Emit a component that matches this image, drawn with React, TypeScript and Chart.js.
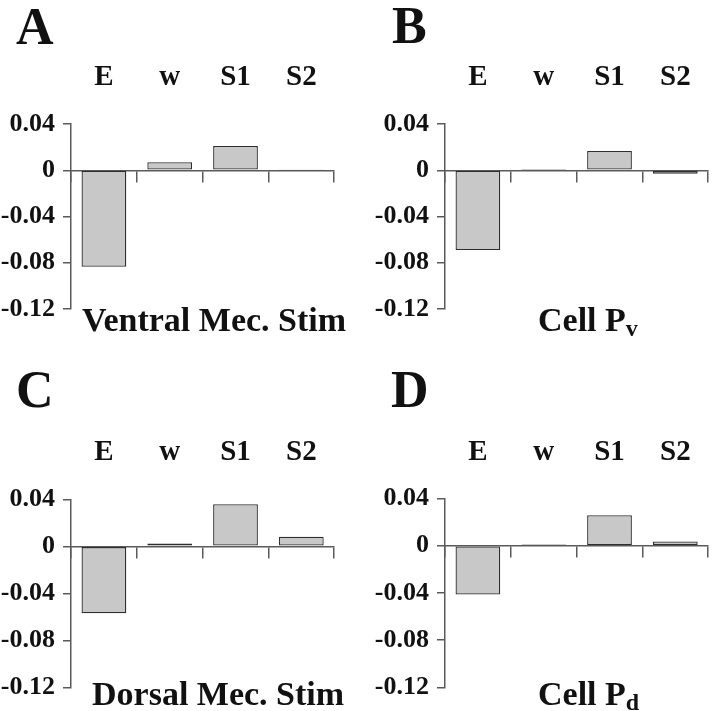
import React, { useEffect, useRef } from 'react';
import { Chart, registerables } from 'chart.js';

Chart.register(...registerables);

// ---- data ----
const categories = ['E', 'w', 'S1', 'S2'];
const ventralMecStim = [-0.0835, 0.0069, 0.021, 0.0005];
const cellPv = [-0.069, 0.001, 0.0167, -0.003];
const dorsalMecStim = [-0.057, 0.0025, 0.0358, 0.0082];
const cellPd = [-0.0414, 0.001, 0.0259, 0.0036];
const yTickValues = [-0.12, -0.08, -0.04, 0, 0.04];
const yTickLabels = ['-0.12', '-0.08', '-0.04', '0', '0.04'];
const yMin = -0.12;
const yMax = 0.04;

const SERIF = "'Liberation Serif', 'Times New Roman', serif";
const AXIS = '#5a5a5a';
const TEXT = '#111111';

type PanelProps = {
  values: number[];
  left: number;
  top: number;
  height: number;
  chartTop: number;
  chartBottom: number;
};

function Panel({ values, left, top, height, chartTop, chartBottom }: PanelProps) {
  const ref = useRef<HTMLCanvasElement | null>(null);
  useEffect(() => {
    if (!ref.current) return;
    const chart = new Chart(ref.current, {
      type: 'bar',
      data: {
        labels: categories,
        datasets: [
          {
            data: values,
            backgroundColor: '#c8c8c8',
            borderColor: '#2e2e2e',
            borderWidth: 1.3,
            borderSkipped: false,
            categoryPercentage: 1,
            barPercentage: 0.68,
          },
        ],
      },
      options: {
        animation: false,
        responsive: false,
        maintainAspectRatio: false,
        devicePixelRatio: 1,
        layout: {
          padding: { left: 0, right: 3, top: chartTop - 80, bottom: height - chartBottom },
        },
        plugins: {
          legend: { display: false },
          tooltip: { enabled: false },
          title: { display: false },
        },
        scales: {
          x: {
            type: 'category',
            position: { y: 0 },
            offset: true,
            grid: {
              display: true,
              offset: true,
              drawOnChartArea: false,
              drawTicks: true,
              tickLength: 11,
              color: AXIS,
              lineWidth: 1.5,
            },
            border: { display: true, color: AXIS, width: 1.5 },
            ticks: { display: false },
          },
          xTop: {
            type: 'category',
            position: 'top',
            offset: true,
            grid: { display: false, drawTicks: false },
            border: { display: false },
            ticks: {
              padding: 29,
              color: TEXT,
              font: { family: SERIF, size: 29, weight: 'bold' },
              maxRotation: 0,
              autoSkip: false,
            },
            afterFit: (s: any) => {
              s.height = 80;
            },
          },
          y: {
            type: 'linear',
            position: 'left',
            min: yMin,
            max: yMax,
            afterFit: (s: any) => {
              s.width = 71;
            },
            afterBuildTicks: (s: any) => {
              s.ticks = yTickValues.map((v) => ({ value: v }));
            },
            ticks: {
              callback: (_v: any, i: number) => yTickLabels[i],
              padding: 8,
              color: TEXT,
              font: { family: SERIF, size: 26, weight: 'bold' },
            },
            grid: {
              drawOnChartArea: false,
              drawTicks: true,
              tickLength: 8,
              color: AXIS,
              lineWidth: 1.5,
            },
            border: { display: true, color: AXIS, width: 1.5 },
          },
        },
      } as any,
    });
    return () => chart.destroy();
  }, []);
  return (
    <canvas
      ref={ref}
      width={346}
      height={height}
      style={{ position: 'absolute', left, top, width: 346, height }}
    />
  );
}

const textBase: React.CSSProperties = {
  position: 'absolute',
  whiteSpace: 'nowrap',
  lineHeight: 1,
  fontWeight: 'bold',
  fontFamily: SERIF,
  color: TEXT,
};

export default function App() {
  return (
    <div
      style={{
        position: 'absolute',
        left: 0,
        top: 0,
        width: 720,
        height: 711,
        background: '#ffffff',
        overflow: 'hidden',
      }}
    >
      <Panel values={ventralMecStim} left={0} top={0} height={345} chartTop={124} chartBottom={309} />
      <Panel values={cellPv} left={374} top={0} height={345} chartTop={124} chartBottom={309} />
      <Panel values={dorsalMecStim} left={0} top={360} height={351} chartTop={139.3} chartBottom={328.3} />
      <Panel values={cellPd} left={374} top={360} height={351} chartTop={138.5} chartBottom={328.3} />

      <div style={{ ...textBase, fontSize: 52, left: 16, top: 1 }}>A</div>
      <div style={{ ...textBase, fontSize: 52, left: 392, top: 0 }}>B</div>
      <div style={{ ...textBase, fontSize: 52, left: 16, top: 364 }}>C</div>
      <div style={{ ...textBase, fontSize: 52, left: 391, top: 364 }}>D</div>

      <div style={{ ...textBase, fontSize: 34, left: 82, top: 303 }}>Ventral Mec. Stim</div>
      <div style={{ ...textBase, fontSize: 34, left: 538, top: 303 }}>
        Cell P<span style={{ fontSize: 24, verticalAlign: '-5px' }}>v</span>
      </div>
      <div style={{ ...textBase, fontSize: 34, left: 92, top: 677 }}>Dorsal Mec. Stim</div>
      <div style={{ ...textBase, fontSize: 34, left: 538, top: 677 }}>
        Cell P<span style={{ fontSize: 24, verticalAlign: '-5px' }}>d</span>
      </div>
    </div>
  );
}
